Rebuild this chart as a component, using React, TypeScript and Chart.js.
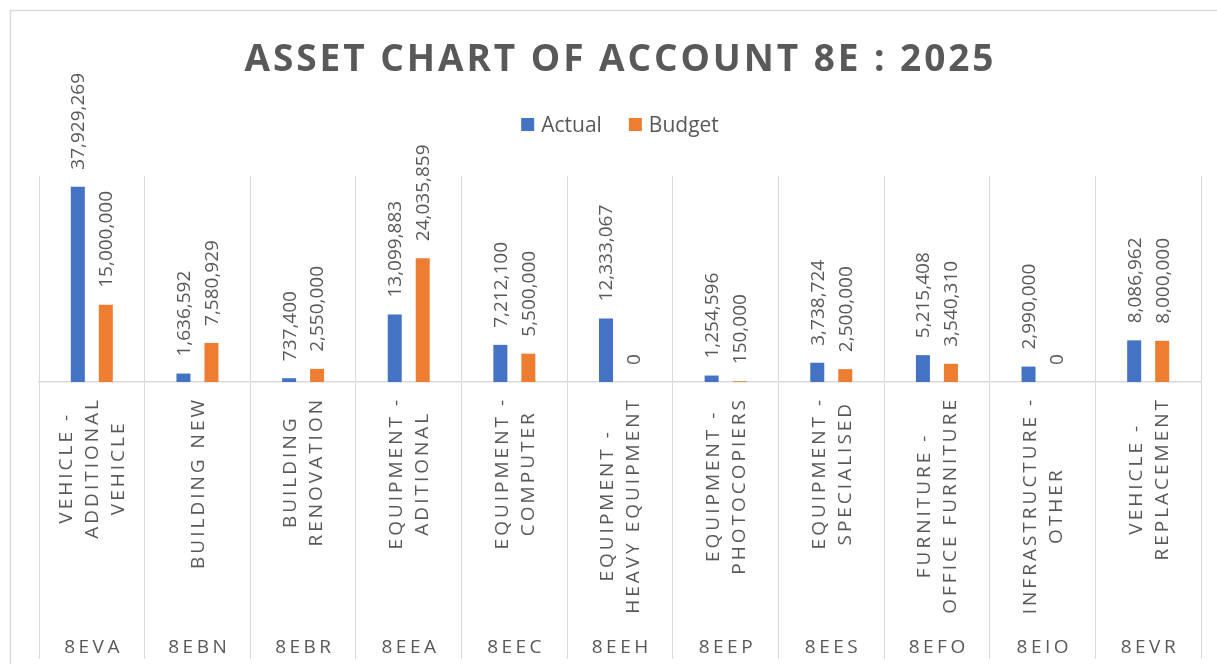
import React, { useEffect, useRef } from "react";
import { Chart, registerables } from "chart.js";

Chart.register(...registerables);

const chartTitle = "ASSET CHART OF ACCOUNT 8E : 2025";
const codes = ["8EVA", "8EBN", "8EBR", "8EEA", "8EEC", "8EEH", "8EEP", "8EES", "8EFO", "8EIO", "8EVR"];
const descriptions = [
  ["VEHICLE -", "ADDITIONAL", "VEHICLE"],
  ["BUILDING NEW"],
  ["BUILDING", "RENOVATION"],
  ["EQUIPMENT -", "ADITIONAL"],
  ["EQUIPMENT -", "COMPUTER"],
  ["EQUIPMENT -", "HEAVY EQUIPMENT"],
  ["EQUIPMENT -", "PHOTOCOPIERS"],
  ["EQUIPMENT -", "SPECIALISED"],
  ["FURNITURE -", "OFFICE FURNITURE"],
  ["INFRASTRUCTURE -", "OTHER"],
  ["VEHICLE -", "REPLACEMENT"],
];
const actualValues = [37929269, 1636592, 737400, 13099883, 7212100, 12333067, 1254596, 3738724, 5215408, 2990000, 8086962];
const budgetValues = [15000000, 7580929, 2550000, 24035859, 5500000, 0, 150000, 2500000, 3540310, 0, 8000000];
const seriesNames = ["Actual", "Budget"];
const seriesColors = ["#4472C4", "#ED7D31"];

const TEXT = "#595959";
const GRID = "#d9d9d9";
const FONT = "'Open Sans', 'Noto Sans', sans-serif";

const fmt = (v: number) => v.toLocaleString("en-US");

const drawPlugin = {
  id: "excelDecor",
  afterDraw(chart: any) {
    const ctx: CanvasRenderingContext2D = chart.ctx;
    const xScale = chart.scales.x;
    const yScale = chart.scales.y;
    const area = chart.chartArea;

    // frame
    ctx.save();
    ctx.strokeStyle = GRID;
    ctx.lineWidth = 1.5;
    ctx.beginPath();
    ctx.moveTo(10.5, chart.height + 5);
    ctx.lineTo(10.5, 10.5);
    ctx.lineTo(chart.width + 5, 10.5);
    ctx.stroke();
    ctx.restore();

    // title
    ctx.save();
    ctx.fillStyle = TEXT;
    ctx.font = `bold 37px ${FONT}`;
    (ctx as any).letterSpacing = "0px";
    const w0 = ctx.measureText(chartTitle).width;
    const targetW = 749;
    const sp = Math.max(0, (targetW - w0) / (chartTitle.length - 1));
    (ctx as any).letterSpacing = `${sp}px`;
    ctx.textAlign = "center";
    ctx.textBaseline = "alphabetic";
    ctx.fillText(chartTitle, 619 + sp / 2, 71);
    ctx.restore();

    // legend
    ctx.save();
    ctx.font = `21px ${FONT}`;
    ctx.textBaseline = "alphabetic";
    ctx.textAlign = "left";
    const sq = 13;
    const gap = 7;
    const itemGap = 27;
    const widths = seriesNames.map((n) => ctx.measureText(n).width);
    const total = widths.reduce((a, b) => a + b, 0) + seriesNames.length * (sq + gap) + itemGap * (seriesNames.length - 1);
    let lx = 620 - total / 2;
    seriesNames.forEach((name, i) => {
      ctx.fillStyle = seriesColors[i];
      ctx.fillRect(lx, 118, sq, sq);
      ctx.fillStyle = TEXT;
      ctx.fillText(name, lx + sq + gap, 132);
      lx += sq + gap + widths[i] + itemGap;
    });
    ctx.restore();

    // data labels
    ctx.save();
    ctx.font = `19px ${FONT}`;
    ctx.fillStyle = TEXT;
    ctx.textAlign = "left";
    ctx.textBaseline = "middle";
    chart.data.datasets.forEach((ds: any, di: number) => {
      const meta = chart.getDatasetMeta(di);
      meta.data.forEach((bar: any, i: number) => {
        const v = ds.data[i];
        const top = yScale.getPixelForValue(v);
        ctx.save();
        ctx.translate(bar.x, top - 17);
        ctx.rotate(-Math.PI / 2);
        ctx.fillText(fmt(v), 0, 1);
        ctx.restore();
      });
    });
    ctx.restore();

    // category descriptions (rotated, multi-line)
    ctx.save();
    ctx.font = `19px ${FONT}`;
    ctx.fillStyle = TEXT;
    const ls = 3;
    (ctx as any).letterSpacing = `${ls}px`;
    ctx.textAlign = "center";
    ctx.textBaseline = "middle";
    const lineH = 26;
    descriptions.forEach((lines, i) => {
      const cx = xScale.getPixelForValue(i);
      const maxLen = Math.max(...lines.map((l) => ctx.measureText(l).width - ls));
      const cy = area.bottom + 18 + maxLen / 2;
      lines.forEach((line, li) => {
        const lxp = cx + (li - (lines.length - 1) / 2) * lineH;
        ctx.save();
        ctx.translate(lxp, cy);
        ctx.rotate(-Math.PI / 2);
        ctx.fillText(line, ls / 2, 1);
        ctx.restore();
      });
    });
    ctx.restore();

    // codes
    ctx.save();
    ctx.font = `19px ${FONT}`;
    ctx.fillStyle = TEXT;
    const cs = 3.5;
    (ctx as any).letterSpacing = `${cs}px`;
    ctx.textAlign = "center";
    ctx.textBaseline = "alphabetic";
    codes.forEach((c, i) => {
      const cx = xScale.getPixelForValue(i);
      ctx.fillText(c, cx + cs / 2, 653);
    });
    ctx.restore();
  },
};

export default function App() {
  const ref = useRef<HTMLCanvasElement | null>(null);
  useEffect(() => {
    if (!ref.current) return;
    const chart = new Chart(ref.current, {
      type: "bar",
      data: {
        labels: codes,
        datasets: [
          { label: seriesNames[0], data: actualValues, backgroundColor: seriesColors[0], borderWidth: 0 },
          { label: seriesNames[1], data: budgetValues, backgroundColor: seriesColors[1], borderWidth: 0 },
        ],
      },
      options: {
        animation: false,
        responsive: false,
        devicePixelRatio: 1,
        layout: { padding: { left: 39, right: 16, top: 176, bottom: 5 } },
        plugins: { legend: { display: false }, title: { display: false }, tooltip: { enabled: false } },
        datasets: { bar: { categoryPercentage: 0.53, barPercentage: 0.5 } },
        scales: {
          x: {
            display: true,
            offset: true,
            grid: { display: true, offset: true, color: GRID, lineWidth: 1, drawTicks: true, tickLength: 277, tickColor: GRID },
            border: { display: true, color: GRID, width: 1.5 },
            ticks: { display: false },
          },
          y: { display: false, min: 0, max: 40000000 },
        },
      },
      plugins: [drawPlugin],
    } as any);
    return () => chart.destroy();
  }, []);
  return (
    <div style={{ position: "absolute", left: 0, top: 0, width: 1217, height: 664, background: "#fff" }}>
      <canvas ref={ref} width={1217} height={664} style={{ display: "block" }} />
    </div>
  );
}
